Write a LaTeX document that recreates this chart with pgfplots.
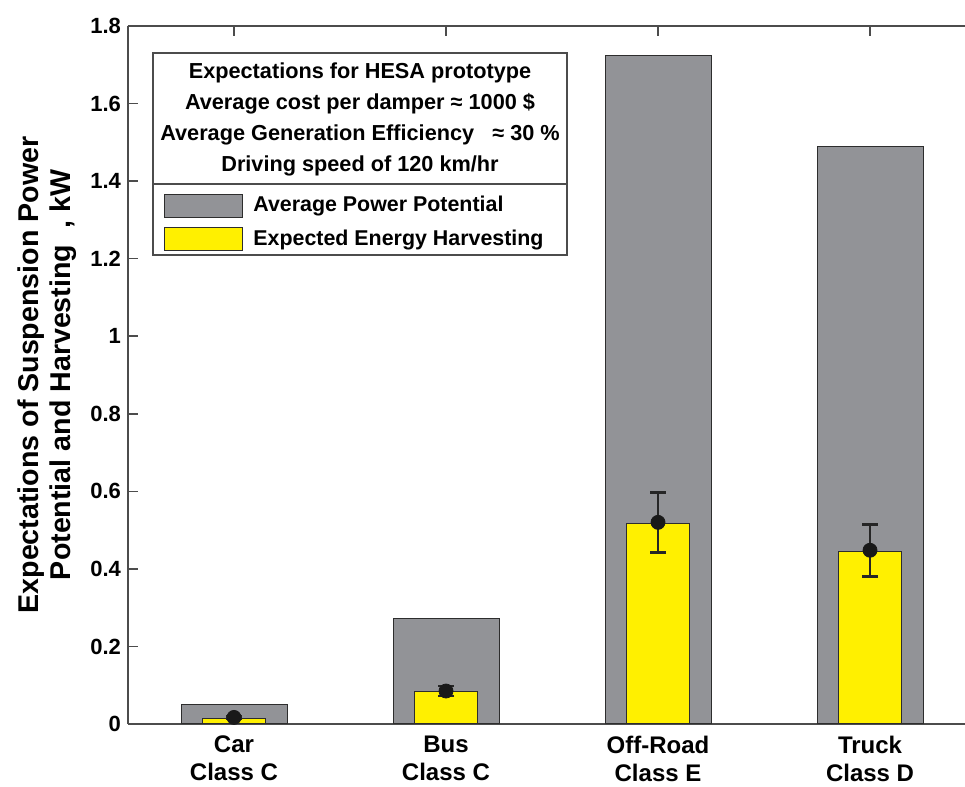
\documentclass[border=0pt]{standalone}
\usepackage{fontspec}
\setmainfont{Liberation Sans}
\usepackage{pgfplots}
\pgfplotsset{compat=1.18}

\definecolor{bargray}{RGB}{146,147,151}
\definecolor{baryellow}{RGB}{255,240,0}
\definecolor{edge}{RGB}{45,45,45}

\begin{document}
\begin{tikzpicture}
\begin{axis}[
    scale only axis,
    width=418.5pt, height=349pt,
    xmin=-0.5, xmax=3.448,
    ymin=0, ymax=1.8,
    axis x line*=box, axis y line*=left,
    axis line style={black!70, line width=0.8pt},
    tick style={black!70, line width=0.8pt},
    tick align=inside,
    major tick length=5pt,
    xtick={0,1,2,3},
    xticklabels={{Car\\Class C},{Bus\\Class C},{Off-Road\\Class E},{Truck\\Class D}},
    xticklabel style={align=center, yshift=-2.5pt, font=\bfseries\fontsize{12}{14}\selectfont},
    ytick={0,0.2,...,1.8},
    ytick pos=left,
    yticklabel style={font=\bfseries\fontsize{11}{12}\selectfont},
    /pgf/number format/assume math mode=true,
    ylabel={Expectations of Suspension Power\\Potential and Harvesting \ , kW},
    ylabel style={align=center, font=\bfseries\fontsize{14.3}{16.2}\selectfont},
    legend style={draw=none, fill=none, at={(rel axis cs:0.0382,0.7679)}, anchor=north west,
        font=\bfseries\fontsize{10.7}{12}\selectfont, row sep=3.5pt, inner sep=2pt},
    legend cell align=left,
    legend image code/.code={\draw[#1] (0pt,-5.75pt) rectangle (39pt,5.75pt);},
]
\addplot[ybar, bar width=0.5, bar shift=0pt, fill=bargray, draw=edge, line width=0.5pt]
  coordinates {(0,0.049) (1,0.273) (2,1.725) (3,1.488)};
\addlegendentry{\hspace{3pt}Average Power Potential}
\addplot[ybar, bar width=0.3, bar shift=0pt, fill=baryellow, draw=edge, line width=0.5pt]
  coordinates {(0,0.015) (1,0.083) (2,0.518) (3,0.446)};
\addlegendentry{\hspace{3pt}Expected Energy Harvesting}
\addplot[forget plot, only marks, mark=*, mark size=3.5pt, color=black!90,
    error bars/.cd, y dir=both, y explicit,
    error bar style={line width=1.4pt, black!85},
    error mark options={rotate=90, mark size=4pt, line width=1.4pt, black!85}]
  coordinates {(0,0.017) +- (0,0.003) (1,0.085) +- (0,0.013) (2,0.52) +- (0,0.078) (3,0.448) +- (0,0.067)};
\draw[black!70, line width=0.6pt] (rel axis cs:0.0299,0.6719) rectangle (rel axis cs:0.5245,0.9613);
\draw[black!70, line width=0.6pt] (rel axis cs:0.0299,0.7736) -- (rel axis cs:0.5245,0.7736);
\node[font=\bfseries\fontsize{10.85}{15.5}\selectfont, align=center, anchor=center]
  at (rel axis cs:0.2772,0.8655)
  {Expectations for HESA prototype\\Average cost per damper ≈ 1000 \$\\Average Generation Efficiency \ \ ≈ 30 \%\\Driving speed of 120 km/hr};
\end{axis}
\pgfresetboundingbox
\path (current axis.south west) ++(-64pt,-31.5pt) rectangle ([yshift=13pt]current axis.north east);
\end{tikzpicture}
\end{document}
